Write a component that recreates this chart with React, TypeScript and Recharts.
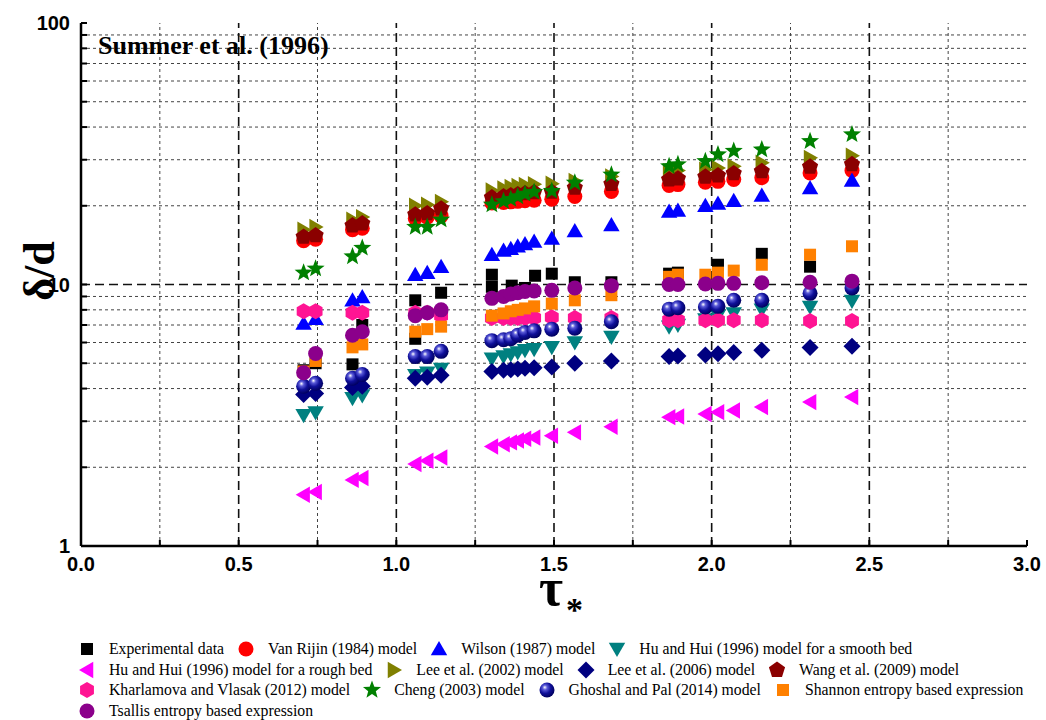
import React from 'react'
import { ScatterChart, Scatter, XAxis, YAxis, ReferenceLine } from 'recharts'

// shear stress parameter at which the models were evaluated
const TAU = [
  0.706, 0.744, 0.861, 0.892, 1.06, 1.098, 1.142, 1.303, 1.34, 1.363, 1.385, 1.408,
  1.437, 1.493, 1.566, 1.682, 1.865, 1.893, 1.98, 2.02, 2.07, 2.159, 2.312, 2.445,
]

const EXP_TAU = [
  0.706, 0.744, 0.861, 0.892, 1.06, 1.06, 1.142, 1.303, 1.303, 1.366, 1.408, 1.44,
  1.493, 1.566, 1.682, 1.865, 1.893, 2.02, 2.159, 2.312,
]
const EXP_D = [
  4.7, 5.0, 4.95, 7.0, 8.7, 6.2, 9.3, 10.9, 9.8, 9.9, 9.7, 10.8, 11.0, 10.2, 10.2,
  11.0, 11.1, 11.9, 13.1, 11.7,
]

const VAN_RIJIN = [14.7, 14.9, 16.2, 16.4, 17.9, 18.1, 18.3, 20.5, 20.6, 20.7, 20.8, 20.9, 21.0, 21.2, 21.7, 22.7, 23.9, 24.1, 24.6, 24.8, 25.2, 25.6, 26.7, 27.3]
const WILSON = [7.1, 7.4, 8.7, 8.95, 10.9, 11.1, 11.7, 13.0, 13.5, 13.7, 14.0, 14.3, 14.6, 15.0, 16.0, 16.9, 19.0, 19.2, 20.0, 20.4, 20.9, 21.9, 23.4, 25.0]
const HU_SMOOTH = [3.16, 3.24, 3.67, 3.76, 4.5, 4.6, 4.75, 5.2, 5.3, 5.4, 5.5, 5.6, 5.65, 5.75, 6.0, 6.3, 6.9, 7.0, 7.35, 7.6, 7.75, 8.0, 8.2, 8.65]
const HU_ROUGH = [1.57, 1.61, 1.79, 1.82, 2.06, 2.12, 2.18, 2.4, 2.45, 2.49, 2.53, 2.57, 2.6, 2.64, 2.72, 2.86, 3.11, 3.13, 3.2, 3.25, 3.3, 3.4, 3.55, 3.71]
const LEE_2002 = [16.2, 16.6, 17.7, 18.1, 20.0, 20.2, 20.7, 22.9, 23.3, 23.6, 23.8, 24.0, 24.2, 24.3, 24.9, 25.9, 27.1, 27.3, 27.5, 27.9, 28.3, 29.2, 30.5, 31.1]
const LEE_2006 = [3.8, 3.83, 4.04, 4.08, 4.38, 4.42, 4.5, 4.65, 4.7, 4.72, 4.75, 4.78, 4.8, 4.84, 5.0, 5.1, 5.3, 5.33, 5.37, 5.44, 5.5, 5.6, 5.74, 5.8]
const WANG = [15.2, 15.4, 16.8, 17.1, 18.5, 18.7, 19.5, 21.5, 21.7, 21.9, 22.1, 22.3, 22.5, 22.6, 23.4, 24.2, 25.2, 25.4, 25.8, 26.1, 26.6, 27.1, 28.2, 28.8]
const KHARLAMOVA = [7.9, 7.9, 7.8, 7.8, 7.8, 7.8, 7.6, 7.45, 7.45, 7.45, 7.45, 7.45, 7.45, 7.5, 7.45, 7.45, 7.3, 7.3, 7.3, 7.3, 7.3, 7.3, 7.25, 7.25]
const CHENG = [11.1, 11.5, 12.8, 13.8, 16.6, 16.6, 17.7, 20.2, 20.8, 21.2, 21.7, 22.2, 22.6, 22.8, 24.5, 26.3, 28.3, 28.8, 29.6, 31.4, 32.4, 32.8, 35.3, 37.5]
const GHOSHAL = [4.08, 4.19, 4.38, 4.53, 5.3, 5.3, 5.55, 6.1, 6.15, 6.2, 6.4, 6.55, 6.65, 6.75, 6.8, 7.2, 8.05, 8.15, 8.2, 8.25, 8.7, 8.7, 9.25, 9.7]
const SHANNON = [4.65, 5.1, 5.75, 5.9, 6.6, 6.75, 6.9, 7.6, 7.75, 7.9, 8.0, 8.1, 8.25, 8.45, 8.7, 9.1, 10.7, 10.9, 10.9, 11.1, 11.3, 11.9, 13.0, 14.0]
const TSALLIS = [4.6, 5.45, 6.4, 6.6, 7.6, 7.8, 8.0, 8.85, 9.0, 9.2, 9.3, 9.4, 9.45, 9.5, 9.7, 9.9, 10.0, 10.0, 10.05, 10.1, 10.1, 10.15, 10.2, 10.3]

const X_TICKS = [0, 0.25, 0.5, 0.75, 1, 1.25, 1.5, 1.75, 2, 2.25, 2.5, 2.75, 3]
const X_MAJOR = [0.5, 1, 1.5, 2, 2.5]
const X_MINOR = [0.25, 0.75, 1.25, 1.75, 2.25, 2.75]
const Y_TICKS = [1, 2, 3, 4, 5, 6, 7, 8, 9, 10, 20, 30, 40, 50, 60, 70, 80, 90, 100]
const Y_LABELED = [1, 10, 100]
const Y_MAJOR = [10]
const Y_MINOR = [2, 3, 4, 5, 6, 7, 8, 9, 20, 30, 40, 50, 60, 70, 80, 90]

const SERIF = "'Liberation Serif', 'Times New Roman', serif"
const SANS = "'Liberation Sans', Arial, sans-serif"

type Kind =
  | 'square' | 'circle' | 'up' | 'down' | 'left' | 'right'
  | 'diamond' | 'pentagon' | 'hexagon' | 'star' | 'sphere'

const pts = (xs: number[], ys: number[]) => xs.map((x, i) => ({ x, y: ys[i] }))

const SERIES: { name: string; kind: Kind; color: string; data: { x: number; y: number }[] }[] = [
  { name: 'Experimental data', kind: 'square', color: '#000000', data: pts(EXP_TAU, EXP_D) },
  { name: 'Van Rijin (1984) model', kind: 'circle', color: '#ff0000', data: pts(TAU, VAN_RIJIN) },
  { name: 'Wilson (1987) model', kind: 'up', color: '#0000ff', data: pts(TAU, WILSON) },
  { name: 'Hu and Hui (1996) model for a smooth bed', kind: 'down', color: '#008080', data: pts(TAU, HU_SMOOTH) },
  { name: 'Hu and Hui (1996) model for a rough bed', kind: 'left', color: '#ff00ff', data: pts(TAU, HU_ROUGH) },
  { name: 'Lee et al. (2002) model', kind: 'right', color: '#808000', data: pts(TAU, LEE_2002) },
  { name: 'Lee et al. (2006) model', kind: 'diamond', color: '#000080', data: pts(TAU, LEE_2006) },
  { name: 'Wang et al. (2009) model', kind: 'pentagon', color: '#8b0000', data: pts(TAU, WANG) },
  { name: 'Kharlamova and Vlasak (2012) model', kind: 'hexagon', color: '#ff1493', data: pts(TAU, KHARLAMOVA) },
  { name: 'Cheng (2003) model', kind: 'star', color: '#008000', data: pts(TAU, CHENG) },
  { name: 'Ghoshal and Pal (2014) model', kind: 'sphere', color: '#000090', data: pts(TAU, GHOSHAL) },
  { name: 'Shannon entropy based expression', kind: 'square', color: '#ff8000', data: pts(TAU, SHANNON) },
  { name: 'Tsallis entropy based expression', kind: 'circle', color: '#8b008b', data: pts(TAU, TSALLIS) },
]

const LEGEND_ROWS = [[0, 1, 2, 3], [4, 5, 6, 7], [8, 9, 10, 11], [12]]

function poly(cx: number, cy: number, r: number, n: number, start: number) {
  const out: string[] = []
  for (let i = 0; i < n; i++) {
    const a = ((start + (i * 360) / n) * Math.PI) / 180
    out.push(`${cx + r * Math.cos(a)},${cy + r * Math.sin(a)}`)
  }
  return out.join(' ')
}

function starPoly(cx: number, cy: number, ro: number, ri: number) {
  const out: string[] = []
  for (let i = 0; i < 10; i++) {
    const r = i % 2 === 0 ? ro : ri
    const a = ((-90 + i * 36) * Math.PI) / 180
    out.push(`${cx + r * Math.cos(a)},${cy + r * Math.sin(a)}`)
  }
  return out.join(' ')
}

function Marker({ kind, color, cx, cy }: { kind: Kind; color: string; cx: number; cy: number }) {
  if (cx == null || cy == null) return null
  switch (kind) {
    case 'square':
      return <rect x={cx - 6} y={cy - 6} width={12} height={12} fill={color} />
    case 'circle':
      return <circle cx={cx} cy={cy} r={7.5} fill={color} />
    case 'up':
      return <polygon points={poly(cx, cy + 1.5, 9.5, 3, -90)} fill={color} />
    case 'down':
      return <polygon points={poly(cx, cy - 1.5, 9.5, 3, 90)} fill={color} />
    case 'left':
      return <polygon points={poly(cx + 1.5, cy, 9.5, 3, 180)} fill={color} />
    case 'right':
      return <polygon points={poly(cx - 1.5, cy, 9.5, 3, 0)} fill={color} />
    case 'diamond':
      return <polygon points={poly(cx, cy, 8.5, 4, -90)} fill={color} />
    case 'pentagon':
      return <polygon points={poly(cx, cy, 8.5, 5, -90)} fill={color} />
    case 'hexagon':
      return <polygon points={poly(cx, cy, 8, 6, -90)} fill={color} />
    case 'star':
      return <polygon points={starPoly(cx, cy, 9.5, 4)} fill={color} />
    case 'sphere':
      return <circle cx={cx} cy={cy} r={7.5} fill="url(#sphereGrad)" />
  }
  return null
}

export default function App() {
  return (
    <div style={{ position: 'relative', width: 1046, height: 720, background: '#fff' }}>
      <style>{'body{margin:0}'}</style>
      <svg width={0} height={0} style={{ position: 'absolute' }}>
        <defs>
          <radialGradient id="sphereGrad" cx="40%" cy="38%" r="62%" fx="35%" fy="32%">
            <stop offset="0" stopColor="#ffffff" />
            <stop offset="0.25" stopColor="#5a5ad8" />
            <stop offset="0.6" stopColor="#10109a" />
            <stop offset="1" stopColor="#000060" />
          </radialGradient>
        </defs>
      </svg>
      <ScatterChart width={1046} height={720} margin={{ top: 23, right: 19, bottom: 134, left: 0 }}>
        {X_MINOR.map((v) => (
          <ReferenceLine key={'xm' + v} x={v} stroke="#444" strokeDasharray="3 3" strokeWidth={1} />
        ))}
        {Y_MINOR.map((v) => (
          <ReferenceLine key={'ym' + v} y={v} stroke="#444" strokeDasharray="3 3" strokeWidth={1} />
        ))}
        {X_MAJOR.map((v) => (
          <ReferenceLine key={'xM' + v} x={v} stroke="#111" strokeDasharray="9 5" strokeWidth={1.6} />
        ))}
        {Y_MAJOR.map((v) => (
          <ReferenceLine key={'yM' + v} y={v} stroke="#111" strokeDasharray="9 5" strokeWidth={1.6} />
        ))}
        <XAxis
          type="number"
          dataKey="x"
          domain={[0, 3]}
          ticks={X_TICKS}
          interval={0}
          allowDataOverflow
          height={40}
          tickSize={-6}
          tickMargin={17}
          tickFormatter={(v: number) => (v % 0.5 === 0 ? v.toFixed(1) : '')}
          axisLine={{ stroke: '#000', strokeWidth: 2.5 }}
          tickLine={{ stroke: '#000', strokeWidth: 2 }}
          tick={{ fill: '#000', fontSize: 20, fontWeight: 700, fontFamily: SANS }}
        />
        <XAxis
          xAxisId="top"
          orientation="top"
          type="number"
          domain={[0, 3]}
          ticks={X_TICKS}
          interval={0}
          allowDataOverflow
          height={0}
          tickSize={-6}
          tick={false}
          axisLine={{ stroke: '#000', strokeWidth: 2.5 }}
          tickLine={{ stroke: '#000', strokeWidth: 2 }}
        />
        <YAxis
          type="number"
          dataKey="y"
          scale="log"
          domain={[1, 100]}
          ticks={Y_TICKS}
          interval={0}
          allowDataOverflow
          width={81}
          tickSize={-6}
          tickMargin={17}
          tickFormatter={(v: number) => (Y_LABELED.includes(v) ? String(v) : '')}
          axisLine={{ stroke: '#000', strokeWidth: 2.5 }}
          tickLine={{ stroke: '#000', strokeWidth: 2 }}
          tick={{ fill: '#000', fontSize: 20, fontWeight: 700, fontFamily: SANS }}
        />
        <YAxis
          yAxisId="right"
          orientation="right"
          type="number"
          scale="log"
          domain={[1, 100]}
          ticks={Y_TICKS}
          interval={0}
          allowDataOverflow
          width={0}
          tickSize={-6}
          tick={false}
          axisLine={{ stroke: '#000', strokeWidth: 2.5 }}
          tickLine={{ stroke: '#000', strokeWidth: 2 }}
        />
        {SERIES.map((s) => (
          <Scatter
            key={s.name}
            name={s.name}
            data={s.data}
            isAnimationActive={false}
            shape={(p: any) => <Marker kind={s.kind} color={s.color} cx={p.cx} cy={p.cy} />}
          />
        ))}
      </ScatterChart>

      <svg
        width={1046}
        height={720}
        style={{ position: 'absolute', left: 0, top: 0, pointerEvents: 'none' }}
      >
        <text x={98} y={54} fontFamily={SERIF} fontWeight={700} fontSize={26} fill="#000">
          Summer et al. (1996)
        </text>
        <text
          transform="translate(54,271) rotate(-90)"
          textAnchor="middle"
          fontFamily={SERIF}
          fontWeight={700}
          fontSize={44}
          fill="#000"
        >
          δ/d
        </text>
        <text x={539} y={605} fontFamily={SERIF} fontWeight={700} fontSize={52} fill="#000">
          τ
          <tspan fontSize={34} dx={3} dy={16}>
            *
          </tspan>
        </text>
      </svg>

      <div style={{ position: 'absolute', left: 75, top: 639, fontFamily: SERIF, fontSize: 15.75 }}>
        {LEGEND_ROWS.map((row, ri) => (
          <div key={ri} style={{ display: 'flex', alignItems: 'center', height: 20.5 }}>
            {row.map((idx) => {
              const s = SERIES[idx]
              return (
                <div key={s.name} style={{ display: 'flex', alignItems: 'center' }}>
                  <svg width={24} height={20}>
                    <Marker kind={s.kind} color={s.color} cx={12} cy={10} />
                  </svg>
                  <span style={{ marginLeft: 10, marginRight: 10, whiteSpace: 'nowrap' }}>{s.name}</span>
                </div>
              )
            })}
          </div>
        ))}
      </div>
    </div>
  )
}
